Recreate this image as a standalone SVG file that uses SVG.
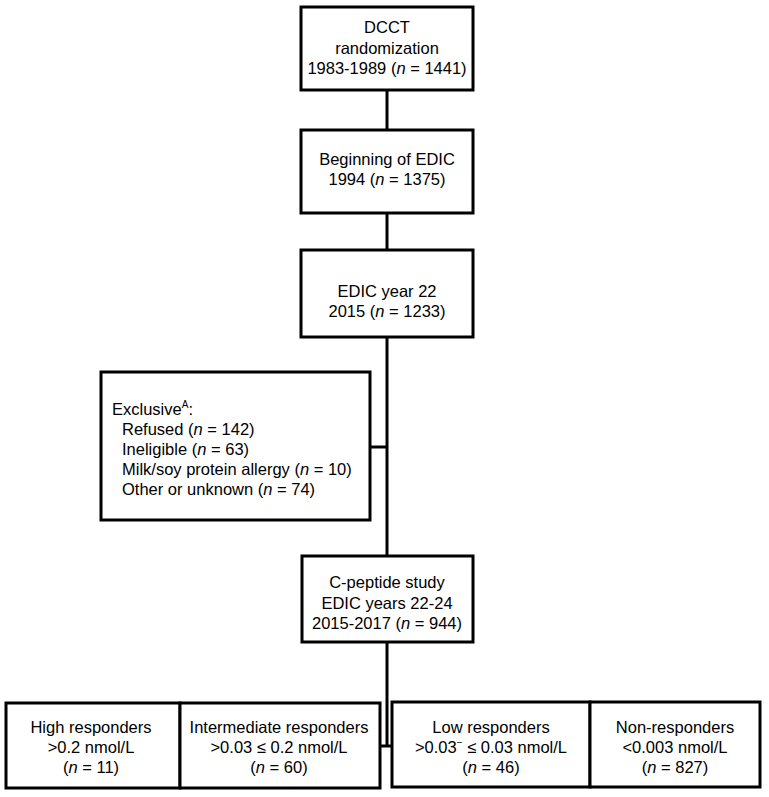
<svg xmlns="http://www.w3.org/2000/svg" width="769" height="797" viewBox="0 0 769 797">
<style>
.box{fill:#fff;stroke:#000;stroke-width:3}
.ln{fill:none;stroke:#000;stroke-width:3}
text{font-family:"Liberation Sans",Arial,Helvetica,sans-serif;font-size:16.5px;fill:#000}
.c{text-anchor:middle}
.i{font-style:italic}
</style>
<rect width="769" height="797" fill="#fff"/>
<g id="connectors">
<line class="ln" x1="387" y1="90" x2="387" y2="130"/>
<line class="ln" x1="387" y1="213" x2="387" y2="250"/>
<line class="ln" x1="387" y1="337" x2="387" y2="556"/>
<line class="ln" x1="370" y1="447" x2="387" y2="447"/>
<line class="ln" x1="387" y1="642" x2="387" y2="746"/>
<line class="ln" x1="380" y1="746" x2="393" y2="746"/>
</g>
<g id="n1">
<rect class="box" x="301" y="7" width="172" height="83"/>
<text class="c" x="387" y="33">DCCT</text>
<text class="c" x="387" y="54">randomization</text>
<text class="c" x="387" y="74">1983-1989 (<tspan class="i">n</tspan> = 1441)</text>
</g>
<g id="n2">
<rect class="box" x="301" y="130" width="172" height="83"/>
<text class="c" x="387" y="165">Beginning of EDIC</text>
<text class="c" x="387" y="185">1994 (<tspan class="i">n</tspan> = 1375)</text>
</g>
<g id="n3">
<rect class="box" x="301" y="250" width="172" height="87"/>
<text class="c" x="387" y="297">EDIC year 22</text>
<text class="c" x="387" y="317">2015 (<tspan class="i">n</tspan> = 1233)</text>
</g>
<g id="excl">
<rect class="box" x="101" y="372" width="269" height="148"/>
<text x="112" y="415">Exclusive<tspan font-size="10" dy="-7">A</tspan><tspan dy="7">:</tspan></text>
<text x="122" y="435">Refused (<tspan class="i">n</tspan> = 142)</text>
<text x="122" y="455">Ineligible (<tspan class="i">n</tspan> = 63)</text>
<text x="122" y="475">Milk/soy protein allergy (<tspan class="i">n</tspan> = 10)</text>
<text x="122" y="495">Other or unknown (<tspan class="i">n</tspan> = 74)</text>
</g>
<g id="n5">
<rect class="box" x="302" y="556" width="171" height="86"/>
<text class="c" x="387" y="588">C-peptide study</text>
<text class="c" x="387" y="609">EDIC years 22-24</text>
<text class="c" x="387" y="629">2015-2017 (<tspan class="i">n</tspan> = 944)</text>
</g>
<g id="high">
<rect class="box" x="6" y="703" width="174" height="85"/>
<text class="c" x="91" y="733">High responders</text>
<text class="c" x="91" y="753">&gt;0.2 nmol/L</text>
<text class="c" x="91" y="773">(<tspan class="i">n</tspan> = 11)</text>
</g>
<g id="inter">
<rect class="box" x="180" y="703" width="200" height="85"/>
<text class="c" x="279" y="733">Intermediate responders</text>
<text class="c" x="279" y="753">&gt;0.03 ≤ 0.2 nmol/L</text>
<text class="c" x="279" y="773">(<tspan class="i">n</tspan> = 60)</text>
</g>
<g id="low">
<rect class="box" x="392" y="702" width="198" height="85"/>
<text class="c" x="491" y="733">Low responders</text>
<text class="c" x="491" y="753">&gt;0.03<tspan font-size="10" dy="-7">−</tspan><tspan dy="7"> ≤ 0.03 nmol/L</tspan></text>
<text class="c" x="491" y="773">(<tspan class="i">n</tspan> = 46)</text>
</g>
<g id="non">
<rect class="box" x="590" y="702" width="170" height="85"/>
<text class="c" x="675" y="733">Non-responders</text>
<text class="c" x="675" y="753">&lt;0.003 nmol/L</text>
<text class="c" x="675" y="773">(<tspan class="i">n</tspan> = 827)</text>
</g>
</svg>
